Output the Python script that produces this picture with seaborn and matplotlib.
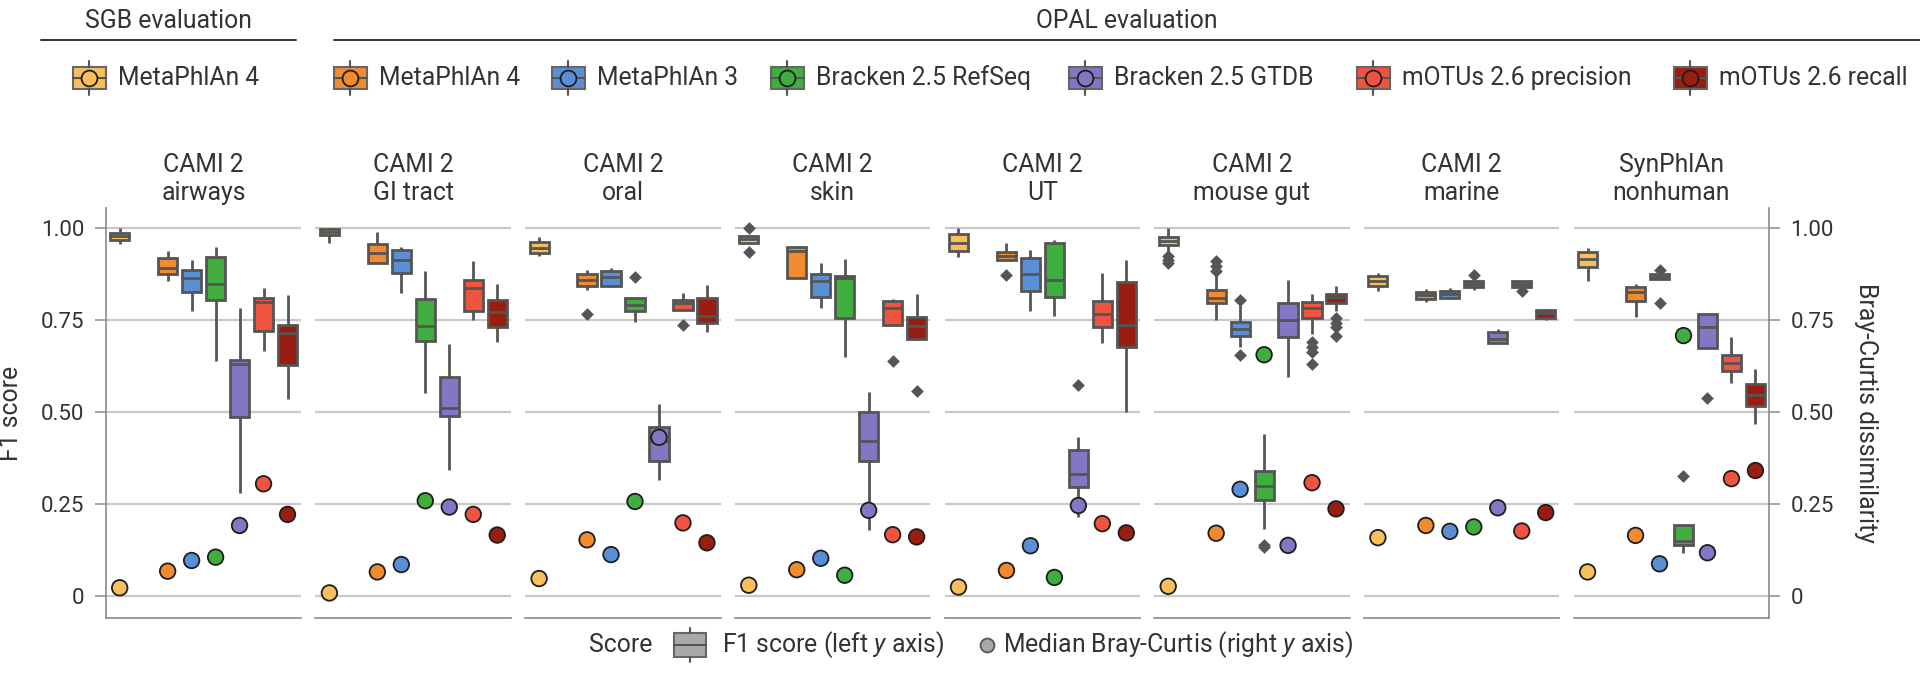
import matplotlib
matplotlib.use("Agg")
import matplotlib.pyplot as plt
import numpy as np
import pandas as pd
import seaborn as sns
from matplotlib.patches import Rectangle

# panels and methods
PANELS = [
    "CAMI 2\nairways", "CAMI 2\nGI tract", "CAMI 2\noral", "CAMI 2\nskin",
    "CAMI 2\nUT", "CAMI 2\nmouse gut", "CAMI 2\nmarine", "SynPhlAn\nnonhuman",
]
METHODS = [
    "MetaPhlAn 4 (SGB)", "MetaPhlAn 4", "MetaPhlAn 3", "Bracken 2.5 RefSeq",
    "Bracken 2.5 GTDB", "mOTUs 2.6 precision", "mOTUs 2.6 recall",
]
LEGEND_LABELS = [
    "MetaPhlAn 4", "MetaPhlAn 4", "MetaPhlAn 3", "Bracken 2.5 RefSeq",
    "Bracken 2.5 GTDB", "mOTUs 2.6 precision", "mOTUs 2.6 recall",
]
COLORS = ["#f9bf5d", "#f28a2f", "#5b8fd5", "#3fae3f", "#8277c4", "#f0533f", "#9a1d12"]

YTICKS = [0, 0.25, 0.5, 0.75, 1.0]
YTICK_LABELS = ["0", "0.25", "0.50", "0.75", "1.00"]

# F1 score per method: [min, q1, median, q3, max]
f1_airways = [
    [0.955, 0.967, 0.976, 0.985, 0.998],
    [0.854, 0.875, 0.889, 0.917, 0.937],
    [0.774, 0.824, 0.863, 0.885, 0.912],
    [0.639, 0.803, 0.848, 0.919, 0.948],
    [0.279, 0.486, 0.630, 0.642, 0.783],
    [0.666, 0.720, 0.797, 0.810, 0.836],
    [0.534, 0.628, 0.714, 0.736, 0.818],
]
f1_gi = [
    [0.957, 0.979, 0.988, 0.997, 1.000],
    [0.905, 0.905, 0.932, 0.955, 0.988],
    [0.823, 0.878, 0.912, 0.940, 0.948],
    [0.551, 0.691, 0.732, 0.805, 0.881],
    [0.342, 0.489, 0.511, 0.596, 0.685],
    [0.750, 0.774, 0.836, 0.857, 0.910],
    [0.690, 0.729, 0.770, 0.803, 0.847],
]
f1_oral = [
    [0.923, 0.932, 0.944, 0.961, 0.975],
    [0.830, 0.842, 0.857, 0.874, 0.884],
    [0.838, 0.842, 0.865, 0.883, 0.890],
    [0.745, 0.773, 0.789, 0.809, 0.809],
    [0.314, 0.366, 0.420, 0.458, 0.522],
    [0.777, 0.777, 0.794, 0.804, 0.822],
    [0.716, 0.742, 0.761, 0.808, 0.845],
]
f1_skin = [
    [0.955, 0.959, 0.968, 0.977, 0.980],
    [0.863, 0.863, 0.937, 0.948, 0.948],
    [0.783, 0.812, 0.856, 0.874, 0.905],
    [0.648, 0.756, 0.863, 0.869, 0.914],
    [0.179, 0.368, 0.421, 0.499, 0.555],
    [0.736, 0.736, 0.782, 0.801, 0.807],
    [0.697, 0.697, 0.734, 0.758, 0.821],
]
f1_ut = [
    [0.921, 0.937, 0.959, 0.982, 0.998],
    [0.912, 0.912, 0.923, 0.934, 0.959],
    [0.774, 0.829, 0.875, 0.917, 0.940],
    [0.761, 0.812, 0.857, 0.957, 0.966],
    [0.215, 0.295, 0.332, 0.397, 0.431],
    [0.687, 0.729, 0.765, 0.801, 0.878],
    [0.501, 0.675, 0.736, 0.853, 0.912],
]
f1_mouse = [
    [0.937, 0.953, 0.964, 0.975, 0.998],
    [0.750, 0.794, 0.809, 0.830, 0.874],
    [0.675, 0.707, 0.725, 0.745, 0.790],
    [0.183, 0.260, 0.298, 0.341, 0.440],
    [0.594, 0.704, 0.750, 0.794, 0.858],
    [0.711, 0.754, 0.783, 0.797, 0.819],
    [0.774, 0.794, 0.812, 0.821, 0.842],
]
f1_marine = [
    [0.829, 0.842, 0.856, 0.869, 0.878],
    [0.799, 0.806, 0.816, 0.826, 0.833],
    [0.806, 0.809, 0.819, 0.829, 0.835],
    [0.830, 0.839, 0.847, 0.854, 0.860],
    [0.686, 0.686, 0.697, 0.716, 0.725],
    [0.840, 0.840, 0.848, 0.856, 0.856],
    [0.749, 0.756, 0.767, 0.776, 0.779],
]
f1_synphlan = [
    [0.854, 0.892, 0.915, 0.934, 0.944],
    [0.758, 0.800, 0.824, 0.840, 0.848],
    [0.860, 0.860, 0.866, 0.875, 0.875],
    [0.117, 0.138, 0.150, 0.192, 0.192],
    [0.673, 0.673, 0.729, 0.765, 0.767],
    [0.578, 0.612, 0.632, 0.655, 0.702],
    [0.468, 0.517, 0.547, 0.576, 0.617],
]

# F1 outliers: (method index, value)
out_airways = []
out_gi = []
out_oral = [(1, 0.765), (3, 0.866), (5, 0.736)]
out_skin = [(0, 1.0), (0, 0.935), (5, 0.639), (6, 0.558)]
out_ut = [(1, 0.871), (4, 0.572)]
out_mouse = [(0, 0.923), (0, 0.912), (0, 0.903), (1, 0.883), (1, 0.896), (1, 0.910),
             (2, 0.803), (2, 0.653), (3, 0.134), (3, 0.140),
             (5, 0.689), (5, 0.676), (5, 0.662), (5, 0.630),
             (6, 0.756), (6, 0.742), (6, 0.729), (6, 0.706)]
out_marine = [(3, 0.872), (5, 0.827)]
out_synphlan = [(2, 0.886), (2, 0.794), (3, 0.325), (4, 0.538)]

# median Bray-Curtis dissimilarity per method
bc_airways = [0.023, 0.068, 0.097, 0.106, 0.192, 0.305, 0.222]
bc_gi = [0.009, 0.066, 0.086, 0.259, 0.242, 0.222, 0.166]
bc_oral = [0.048, 0.153, 0.113, 0.257, 0.431, 0.199, 0.145]
bc_skin = [0.030, 0.072, 0.103, 0.057, 0.233, 0.167, 0.161]
bc_ut = [0.025, 0.070, 0.137, 0.051, 0.246, 0.197, 0.172]
bc_mouse = [0.027, 0.171, 0.290, 0.655, 0.138, 0.308, 0.237]
bc_marine = [0.159, 0.192, 0.176, 0.188, 0.240, 0.177, 0.227]
bc_synphlan = [0.066, 0.165, 0.088, 0.707, 0.118, 0.319, 0.341]

F1 = [f1_airways, f1_gi, f1_oral, f1_skin, f1_ut, f1_mouse, f1_marine, f1_synphlan]
OUT = [out_airways, out_gi, out_oral, out_skin, out_ut, out_mouse, out_marine, out_synphlan]
BC = [bc_airways, bc_gi, bc_oral, bc_skin, bc_ut, bc_mouse, bc_marine, bc_synphlan]


def position(i):
    # the SGB column sits apart from the six OPAL columns
    return i if i == 0 else i + 1


f1_rows, out_rows, bc_rows = [], [], []
for p, panel in enumerate(PANELS):
    for i, method in enumerate(METHODS):
        for v in F1[p][i]:
            f1_rows.append({"panel": panel, "method": method, "pos": position(i), "f1": v})
        bc_rows.append({"panel": panel, "method": method, "pos": position(i), "bc": BC[p][i]})
    for i, v in OUT[p]:
        out_rows.append({"panel": panel, "method": METHODS[i], "pos": position(i), "f1": v})
f1_df = pd.DataFrame(f1_rows)
out_df = pd.DataFrame(out_rows)
bc_df = pd.DataFrame(bc_rows)

sns.set_theme(style="white")
plt.rcParams["font.family"] = ["Roboto", "DejaVu Sans"]
plt.rcParams["mathtext.fontset"] = "custom"
plt.rcParams["mathtext.rm"] = "Roboto"
plt.rcParams["mathtext.it"] = "Roboto:italic"

TEXT = "#333333"
EDGE = "#555555"
SPINE = "#8a8a8a"
FS = 17.8
palette = dict(zip(METHODS, COLORS))

fig, axes = plt.subplots(1, 8, figsize=(19.2, 6.76), dpi=100)
fig.subplots_adjust(left=0.0551, right=0.9214, bottom=0.0858, top=0.6923, wspace=0.0732)

for p, ax in enumerate(axes):
    panel = PANELS[p]
    sns.boxplot(
        data=f1_df[f1_df.panel == panel], x="pos", y="f1", hue="method",
        hue_order=METHODS, palette=palette, native_scale=True, dodge=False,
        width=0.8, whis=(0, 100), saturation=1, linewidth=2, linecolor=EDGE,
        showfliers=False, legend=False, capprops={"visible": False}, ax=ax,
    )
    od = out_df[out_df.panel == panel]
    if len(od):
        sns.scatterplot(data=od, x="pos", y="f1", marker="D", color=EDGE, s=42,
                        linewidth=0, legend=False, ax=ax, zorder=4)
    sns.scatterplot(
        data=bc_df[bc_df.panel == panel], x="pos", y="bc", hue="method",
        hue_order=METHODS, palette=palette, s=125, edgecolor="#1e1e1e",
        linewidth=1.3, legend=False, ax=ax, zorder=5,
    )

    ax.set_xlim(-0.58, 7.57)
    ax.set_ylim(-0.059, 1.053)
    ax.set_xticks([])
    ax.set_xlabel("")
    ax.set_ylabel("")
    ax.set_yticks(YTICKS)
    ax.set_yticklabels(YTICK_LABELS)
    ax.grid(axis="y", color="#c9c9c9", linewidth=1.6)
    ax.set_axisbelow(True)
    ax.set_title(panel, fontsize=FS, color=TEXT, pad=6, linespacing=1.2)

    for side in ["top", "right", "left"]:
        ax.spines[side].set_visible(False)
    ax.spines["bottom"].set_color(SPINE)
    ax.spines["bottom"].set_linewidth(1.2)
    ax.tick_params(axis="y", left=False, labelleft=False, right=False, labelright=False,
                   length=8, width=1.1, color=SPINE, pad=7.5, labelsize=16,
                   labelcolor=TEXT)

axes[0].spines["left"].set_visible(True)
axes[0].spines["left"].set_color(SPINE)
axes[0].spines["left"].set_linewidth(1.2)
axes[0].tick_params(axis="y", left=True, labelleft=True)
axes[0].set_ylabel("F1 score", fontsize=FS, color=TEXT, va="center")
axes[0].yaxis.set_label_coords(-0.485, 0.5)

axes[-1].spines["right"].set_visible(True)
axes[-1].spines["right"].set_color(SPINE)
axes[-1].spines["right"].set_linewidth(1.2)
axes[-1].tick_params(axis="y", right=True, labelright=True)
axes[-1].yaxis.set_label_position("right")
axes[-1].set_ylabel("Bray-Curtis dissimilarity", fontsize=FS, color=TEXT,
                    rotation=270, va="center")
axes[-1].yaxis.set_label_coords(1.497, 0.5)

# legend layer in pixel coordinates
ov = fig.add_axes([0, 0, 1, 1])
ov.set_xlim(0, 1920)
ov.set_ylim(676, 0)
ov.set_axis_off()


def glyph(cx, cy, face, w=33, h=22, whisk=6, dot=None):
    ov.add_patch(Rectangle((cx - w / 2, cy - h / 2), w, h, facecolor=face,
                           edgecolor="#666666", linewidth=1.5, zorder=2))
    ov.plot([cx - w / 2, cx + w / 2], [cy, cy], color="#555555", lw=1.5, zorder=3)
    ov.plot([cx, cx], [cy - h / 2 - whisk, cy - h / 2], color="#555555", lw=1.5, zorder=3)
    ov.plot([cx, cx], [cy + h / 2, cy + h / 2 + whisk], color="#555555", lw=1.5, zorder=3)
    if dot is not None:
        ov.scatter([cx], [cy], s=130, facecolor=dot, edgecolor="#1e1e1e",
                   linewidth=1.3, zorder=4)


ov.text(168, 21, "SGB evaluation", fontsize=FS, color=TEXT, ha="center", va="center")
ov.text(1127, 21, "OPAL evaluation", fontsize=FS, color=TEXT, ha="center", va="center")
ov.plot([41, 296], [40, 40], color="#333333", lw=1.4)
ov.plot([334, 1920], [40, 40], color="#333333", lw=1.4)

legend_x = [89, 350, 568, 787, 1085, 1373, 1690]
for x, label, color in zip(legend_x, LEGEND_LABELS, COLORS):
    glyph(x, 78, color, dot=color)
    ov.text(x + 29, 78, label, fontsize=FS, color=TEXT, ha="left", va="center")

ov.text(652, 645, "Score", fontsize=FS, color=TEXT, ha="right", va="center")
glyph(690, 645, "#a9a9a9", w=32, h=24, whisk=5)
ov.text(722, 645, "F1 score (left $\\mathit{y}$ axis)", fontsize=FS, color=TEXT,
        ha="left", va="center")
ov.scatter([987], [645], s=100, facecolor="#a9a9a9", edgecolor="#555555", linewidth=1.3)
ov.text(1003, 645, "Median Bray-Curtis (right $\\mathit{y}$ axis)", fontsize=FS,
        color=TEXT, ha="left", va="center")

fig.savefig("out.png", dpi=100)
